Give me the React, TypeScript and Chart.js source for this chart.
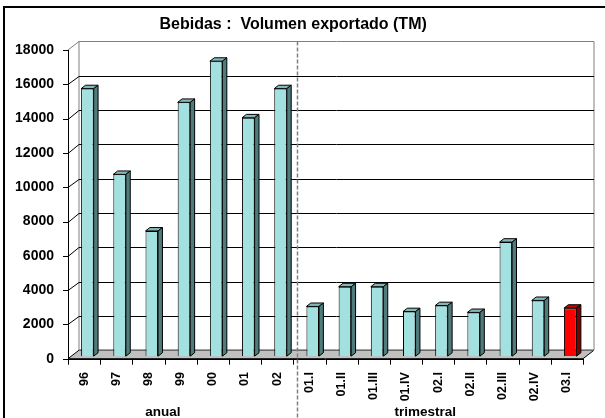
import React, { useEffect, useRef } from "react";
import { Chart, registerables } from "chart.js";

Chart.register(...registerables);

const categories = ["96", "97", "98", "99", "00", "01", "02", "01.I", "01.II", "01.III", "01.IV", "02.I", "02.II", "02.III", "02.IV", "03.I"];
const volumes = [15600, 10600, 7300, 14800, 17200, 13900, 15600, 2900, 4050, 4050, 2600, 2950, 2550, 6650, 3250, 2800];
const highlightIndex = 15;
const yTicks = [0, 2000, 4000, 6000, 8000, 10000, 12000, 14000, 16000, 18000];
const groupLabels = ["anual", "trimestral"];
const groupPositions = [2.45, 10.6];
const separatorAfter = 6;
const titleText = "Bebidas :  Volumen exportado (TM)";

const FONT = "'Liberation Sans', Arial, sans-serif";
const DEPTH_X = 11;
const DEPTH_Y = -8.5;
const FRONT_F = 0.3; // chart area plane depth (bar front face)
const BAR_DEPTH = 0.4;

const FRONT = "#A3E0E0";
const TOP = "#84B8B8";
const SIDE = "#4E7C7C";
const RED_FRONT = "#FF0000";
const RED_TOP = "#CC0000";
const RED_SIDE = "#800000";

const threeD = {
  id: "threeD",
  beforeDraw(chart: any) {
    const ctx = chart.ctx;
    ctx.save();
    ctx.fillStyle = "#fff";
    ctx.fillRect(0, 0, chart.width, chart.height);
    ctx.strokeStyle = "#000";
    ctx.lineWidth = 2;
    ctx.beginPath();
    ctx.moveTo(4, chart.height + 5);
    ctx.lineTo(4, 7);
    ctx.lineTo(chart.width + 5, 7);
    ctx.stroke();
    ctx.restore();
  },
  beforeDatasetsDraw(chart: any) {
    const ctx = chart.ctx;
    const ys = chart.scales.y;
    const ca = chart.chartArea;
    const fx = -FRONT_F * DEPTH_X, fy = -FRONT_F * DEPTH_Y;
    const bx = (1 - FRONT_F) * DEPTH_X, by = (1 - FRONT_F) * DEPTH_Y;
    const fl = ca.left + fx, fr = ca.right + fx;
    const bl = ca.left + bx, br = ca.right + bx;
    const y0 = ys.getPixelForValue(0);
    const yMax = ys.getPixelForValue(ys.max);
    ctx.save();
    ctx.lineWidth = 1;
    // floor
    ctx.beginPath();
    ctx.moveTo(fl, y0 + fy);
    ctx.lineTo(fr, y0 + fy);
    ctx.lineTo(br, y0 + by);
    ctx.lineTo(bl, y0 + by);
    ctx.closePath();
    ctx.fillStyle = "#C0C0C0";
    ctx.fill();
    ctx.strokeStyle = "#000";
    ctx.stroke();
    ctx.strokeStyle = "#808080";
    ctx.beginPath();
    ctx.moveTo(bl, y0 + by);
    ctx.lineTo(br, y0 + by);
    ctx.stroke();
    // back wall border
    ctx.strokeStyle = "#808080";
    ctx.beginPath();
    ctx.moveTo(bl, y0 + by);
    ctx.lineTo(bl, yMax + by);
    ctx.lineTo(br, yMax + by);
    ctx.lineTo(br, y0 + by);
    ctx.stroke();
    ctx.beginPath();
    ctx.moveTo(fl, yMax + fy);
    ctx.lineTo(bl, yMax + by);
    ctx.stroke();
    // grid lines
    ctx.strokeStyle = "#000";
    yTicks.forEach((v) => {
      if (v === 0 || v === ys.max) return;
      const p = ys.getPixelForValue(v);
      ctx.beginPath();
      ctx.moveTo(fl, Math.round(p + fy) + 0.5);
      ctx.lineTo(bl, Math.round(p + by) + 0.5);
      ctx.lineTo(br, Math.round(p + by) + 0.5);
      ctx.stroke();
    });
    // front y axis
    ctx.beginPath();
    ctx.moveTo(Math.round(fl) + 0.5, yMax + fy);
    ctx.lineTo(Math.round(fl) + 0.5, y0 + fy);
    ctx.stroke();
    yTicks.forEach((v) => {
      const p = Math.round(ys.getPixelForValue(v) + fy) + 0.5;
      ctx.beginPath();
      ctx.moveTo(fl - 5, p);
      ctx.lineTo(fl, p);
      ctx.stroke();
    });
    // front x axis and ticks
    const xs = chart.scales.x;
    const n = categories.length;
    ctx.beginPath();
    ctx.moveTo(fl, Math.round(y0 + fy) + 0.5);
    ctx.lineTo(fr, Math.round(y0 + fy) + 0.5);
    ctx.stroke();
    for (let i = 0; i <= n; i++) {
      const x = Math.round(xs.getPixelForValue(i - 0.5) + fx) + 0.5;
      ctx.beginPath();
      ctx.moveTo(x, y0 + fy);
      ctx.lineTo(x, y0 + fy + 6);
      ctx.stroke();
    }
    ctx.restore();
  },
  afterDatasetsDraw(chart: any) {
    const ctx = chart.ctx;
    const meta = chart.getDatasetMeta(0);
    const dx = BAR_DEPTH * DEPTH_X, dy = BAR_DEPTH * DEPTH_Y;
    ctx.save();
    ctx.lineWidth = 1;
    ctx.strokeStyle = "#000";
    meta.data.forEach((bar: any, i: number) => {
      const { x, y, base, width } = bar.getProps(["x", "y", "base", "width"], true);
      const L = x - width / 2, R = x + width / 2;
      const red = i === highlightIndex;
      ctx.beginPath();
      ctx.moveTo(L, y);
      ctx.lineTo(L + dx, y + dy);
      ctx.lineTo(R + dx, y + dy);
      ctx.lineTo(R, y);
      ctx.closePath();
      ctx.fillStyle = red ? RED_TOP : TOP;
      ctx.fill();
      ctx.stroke();
      ctx.beginPath();
      ctx.moveTo(R, y);
      ctx.lineTo(R + dx, y + dy);
      ctx.lineTo(R + dx, base + dy);
      ctx.lineTo(R, base);
      ctx.closePath();
      ctx.fillStyle = red ? RED_SIDE : SIDE;
      ctx.fill();
      ctx.stroke();
    });
    // separator dashed line
    const xs = chart.scales.x;
    const sx = Math.round(xs.getPixelForValue(separatorAfter + 0.5) + 0.5) + 0.5;
    const ys = chart.scales.y;
    ctx.strokeStyle = "#808080";
    ctx.lineWidth = 1.5;
    ctx.setLineDash([4, 2]);
    ctx.beginPath();
    ctx.moveTo(sx, ys.getPixelForValue(ys.max) + (1 - FRONT_F) * DEPTH_Y);
    ctx.lineTo(sx, chart.height);
    ctx.stroke();
    ctx.setLineDash([]);
    // group labels
    ctx.fillStyle = "#000";
    ctx.font = `bold 13.5px ${FONT}`;
    ctx.textAlign = "center";
    ctx.textBaseline = "alphabetic";
    groupLabels.forEach((g, k) => {
      const gx = xs.getPixelForValue(groupPositions[k]) - FRONT_F * DEPTH_X;
      ctx.fillText(g, gx, 415.5);
    });
    ctx.restore();
  },
};

export default function App() {
  const ref = useRef<HTMLCanvasElement>(null);
  useEffect(() => {
    document.body.style.margin = "0";
    const chart = new Chart(ref.current!, {
      type: "bar",
      data: {
        labels: categories,
        datasets: [
          {
            data: volumes,
            backgroundColor: volumes.map((_, i) => (i === highlightIndex ? RED_FRONT : FRONT)),
            borderColor: "#000",
            borderWidth: 1,
            categoryPercentage: 1,
            barPercentage: 0.39,
          },
        ],
      },
      options: {
        animation: false,
        responsive: false,
        devicePixelRatio: 1,
        layout: { padding: { top: 0, left: 0, right: 18.7, bottom: 0 } },
        plugins: {
          legend: { display: false },
          tooltip: { enabled: false },
          title: {
            display: true,
            text: titleText,
            color: "#000",
            font: { family: FONT, size: 16, weight: "bold" },
            padding: { top: 14.7, bottom: 13.55 },
          },
        },
        scales: {
          x: {
            grid: { display: false },
            border: { display: false },
            ticks: {
              color: "#000",
              font: { family: FONT, size: 12.5, weight: "bold" },
              minRotation: 90,
              maxRotation: 90,
              autoSkip: false,
              padding: 8,
              labelOffset: -3.3,
            },
            afterFit: (s: any) => {
              s.height = 61.85;
            },
          },
          y: {
            min: 0,
            max: 18000,
            grid: { display: false },
            border: { display: false },
            ticks: {
              stepSize: 2000,
              color: "#000",
              font: { family: FONT, size: 14, weight: "bold" },
              padding: 9.3,
              labelOffset: 2.55,
              callback: (v: any) => String(v),
            },
            afterFit: (s: any) => {
              s.width = 71.3;
            },
          },
        },
      },
      plugins: [threeD],
    } as any);
    return () => chart.destroy();
  }, []);
  return (
    <div style={{ width: 605, height: 418 }}>
      <canvas ref={ref} width={605} height={418} style={{ display: "block" }} />
    </div>
  );
}
